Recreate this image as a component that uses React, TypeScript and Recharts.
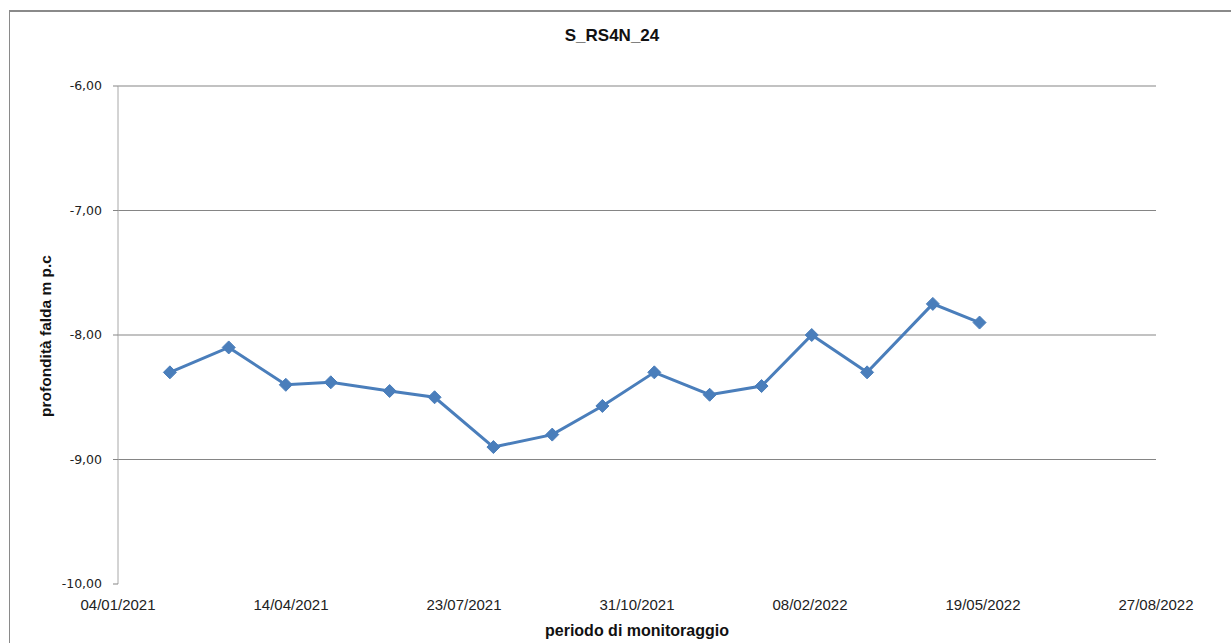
import React from 'react';
import { LineChart, Line, XAxis, YAxis, CartesianGrid } from 'recharts';

const sampleDates = [
  '03/02/2021', '09/03/2021', '11/04/2021', '07/05/2021', '10/06/2021', '06/07/2021',
  '09/08/2021', '12/09/2021', '11/10/2021', '10/11/2021', '12/12/2021', '11/01/2022',
  '09/02/2022', '13/03/2022', '20/04/2022', '17/05/2022',
];
const depthValues = [
  -8.3, -8.1, -8.4, -8.38, -8.45, -8.5,
  -8.9, -8.8, -8.57, -8.3, -8.48, -8.41,
  -8.0, -8.3, -7.75, -7.9,
];
const xTickLabels = ['04/01/2021', '14/04/2021', '23/07/2021', '31/10/2021', '08/02/2022', '19/05/2022', '27/08/2022'];
const yTickValues = [-10, -9, -8, -7, -6];
const gridValues = [-9, -8, -7, -6];

const chartTitle = 'S_RS4N_24';
const xTitle = 'periodo di monitoraggio';
const yTitle = 'profondità falda m p.c';

const toTs = (s: string) => {
  const [d, m, y] = s.split('/').map(Number);
  return Date.UTC(y, m - 1, d);
};
const pad = (n: number) => (n < 10 ? '0' + n : '' + n);
const fmtDate = (ts: number) => {
  const dt = new Date(ts);
  return pad(dt.getUTCDate()) + '/' + pad(dt.getUTCMonth() + 1) + '/' + dt.getUTCFullYear();
};
const fmtNum = (v: number) => v.toFixed(2).replace('.', ',');

const data = sampleDates.map((d, i) => ({ t: toTs(d), v: depthValues[i] }));
const xTicks = xTickLabels.map(toTs);

const Diamond = (props: any) => {
  const { cx, cy } = props;
  if (cx == null || cy == null) return null;
  const r = 6.5;
  return (
    <polygon
      points={`${cx},${cy - r} ${cx + r},${cy} ${cx},${cy + r} ${cx - r},${cy}`}
      fill="#4a7ebb"
      stroke="#4a7ebb"
      strokeWidth={1}
    />
  );
};

const TopTickMark = (props: any) => {
  const { x, y } = props;
  return <line x1={x} x2={x} y1={y - 6} y2={y} stroke="#a0a0a0" strokeWidth={1} />;
};

export default function App() {
  return (
    <div style={{ position: 'absolute', left: 0, top: 0, width: 1231, height: 643, overflow: 'hidden', background: '#fff' }}>
      <div
        style={{
          position: 'absolute', left: 9, top: 10, width: 1300, height: 700,
          borderTop: '2px solid #8a8a8a', borderLeft: '1px solid #8a8a8a', boxSizing: 'border-box',
        }}
      />
      <div style={{ position: 'absolute', left: 0, top: 0 }}>
        <LineChart width={1231} height={643} data={data} margin={{ top: 86, right: 75, bottom: 29, left: 58 }}>
          <CartesianGrid horizontal={true} vertical={false} horizontalValues={gridValues} stroke="#858585" strokeWidth={1} />
          <XAxis
            xAxisId="top"
            orientation="top"
            dataKey="t"
            type="number"
            domain={[xTicks[0], xTicks[xTicks.length - 1]]}
            ticks={xTicks}
            mirror={true}
            tick={<TopTickMark />}
            tickSize={6}
            tickMargin={0}
            tickLine={false}
            axisLine={{ stroke: '#858585' }}
            height={0}
            interval={0}
          />
          <XAxis
            dataKey="t"
            type="number"
            domain={[xTicks[0], xTicks[xTicks.length - 1]]}
            ticks={xTicks}
            tickFormatter={fmtDate}
            axisLine={false}
            tickLine={false}
            tickSize={0}
            tickMargin={15}
            height={30}
            interval={0}
            tick={{ fill: '#222', fontSize: 15, fontFamily: 'Liberation Sans, Arial, sans-serif' }}
          />
          <YAxis
            type="number"
            domain={[-10, -6]}
            ticks={yTickValues}
            tickFormatter={fmtNum}
            width={60}
            tickSize={5}
            tickMargin={11}
            interval={0}
            axisLine={{ stroke: '#a8a8a8' }}
            tickLine={{ stroke: '#858585' }}
            tick={{ fill: '#222', fontSize: 12.5, fontFamily: 'DejaVu Sans, Verdana, sans-serif' }}
          />
          <Line
            dataKey="v"
            type="linear"
            stroke="#4a7ebb"
            strokeWidth={3}
            dot={<Diamond />}
            activeDot={false}
            isAnimationActive={false}
          />
        </LineChart>
      </div>
      <div
        style={{
          position: 'absolute', left: 612 - 100, top: 26, width: 200, textAlign: 'center',
          fontFamily: 'Liberation Sans, Arial, sans-serif', fontWeight: 'bold', fontSize: 17, color: '#111',
        }}
      >
        {chartTitle}
      </div>
      <div
        style={{
          position: 'absolute', left: 637 - 150, top: 622, width: 300, textAlign: 'center',
          fontFamily: 'Liberation Sans, Arial, sans-serif', fontWeight: 'bold', fontSize: 16, color: '#111',
        }}
      >
        {xTitle}
      </div>
      <div
        style={{
          position: 'absolute', left: 46 - 150, top: 336 - 10, width: 300, height: 20, lineHeight: '20px', textAlign: 'center',
          transform: 'rotate(-90deg)', transformOrigin: '150px 10px',
          fontFamily: 'Liberation Sans, Arial, sans-serif', fontWeight: 'bold', fontSize: 15.5, color: '#111',
        }}
      >
        {yTitle}
      </div>
    </div>
  );
}
